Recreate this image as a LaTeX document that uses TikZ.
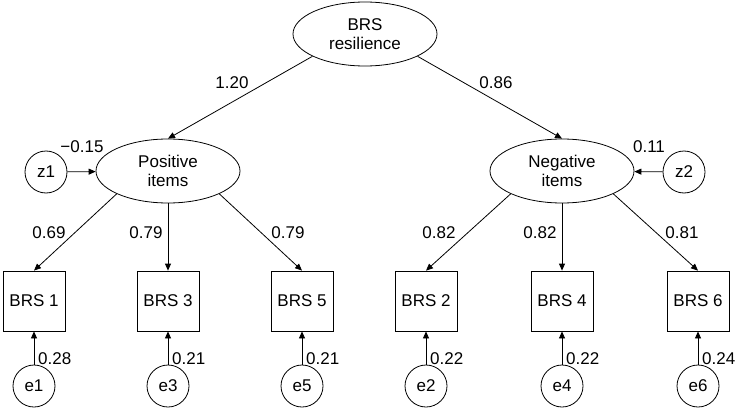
\documentclass[tikz,border=0pt]{standalone}
\usepackage{fontspec}
\setmainfont{Liberation Sans}
\usetikzlibrary{shapes.geometric,arrows.meta}
\begin{document}
\begin{tikzpicture}[x=1pt,y=-1pt,
  every node/.style={font=\fontsize{17}{19}\selectfont},
  latent/.style={draw,ellipse,line width=0.8pt,minimum width=144pt,minimum height=64pt,inner sep=0pt,align=center},
  obs/.style={draw,rectangle,line width=0.8pt,minimum width=62pt,minimum height=60pt,inner sep=0pt},
  err/.style={draw,circle,line width=0.8pt,minimum size=42pt,inner sep=0pt},
  lab/.style={inner sep=0pt},
  path/.style={line width=0.8pt,-{Triangle[length=7pt,width=6pt]}}
]
\useasboundingbox (0,0) rectangle (735,409);
\node[latent] (brs) at (365,34) {BRS\\resilience};
\node[latent] (pos) at (168,171) {Positive\\items};
\node[latent] (neg) at (562,171) {Negative\\items};
\node[err] (z1) at (46,172) {z1};
\node[err] (z2) at (684,172) {z2};
\foreach \n/\x in {1/34,3/168,5/302,2/426,4/562,6/698}{
  \node[obs] (b\n) at (\x,301) {BRS \n};
  \node[err] (e\n) at (\x,386) {e\n};
  \draw[path] (e\n) -- (b\n);
}
\draw[path] (brs.203) -- (pos.north);
\draw[path] (brs.-23) -- (neg.north);
\draw[path] (z1) -- (pos);
\draw[path] (z2) -- (neg);
\draw[path] (pos.204) -- (b1.north);
\draw[path] (pos.south) -- (b3.north);
\draw[path] (pos.-24) -- (b5.north);
\draw[path] (neg.204) -- (b2.north);
\draw[path] (neg.south) -- (b4.north);
\draw[path] (neg.-24) -- (b6.north);
\node[lab] (l120) at (232,83) {1.20};
\node[lab] (l086) at (496,83) {0.86};
\node[lab] (lz1) at (82,147) {−0.15};
\node[lab] (lz2) at (649,147) {0.11};
\node[lab] (l1) at (49,233) {0.69};
\node[lab] (l3) at (146,233) {0.79};
\node[lab] (l5) at (288,233) {0.79};
\node[lab] (l2) at (439,233) {0.82};
\node[lab] (l4) at (540,233) {0.82};
\node[lab] (l6) at (682,233) {0.81};
\node[lab,anchor=west] (r1) at (38,359) {0.28};
\node[lab,anchor=west] (r3) at (172,359) {0.21};
\node[lab,anchor=west] (r5) at (306,359) {0.21};
\node[lab,anchor=west] (r2) at (430,359) {0.22};
\node[lab,anchor=west] (r4) at (566,359) {0.22};
\node[lab,anchor=west] (r6) at (702,359) {0.24};
\end{tikzpicture}
\end{document}
